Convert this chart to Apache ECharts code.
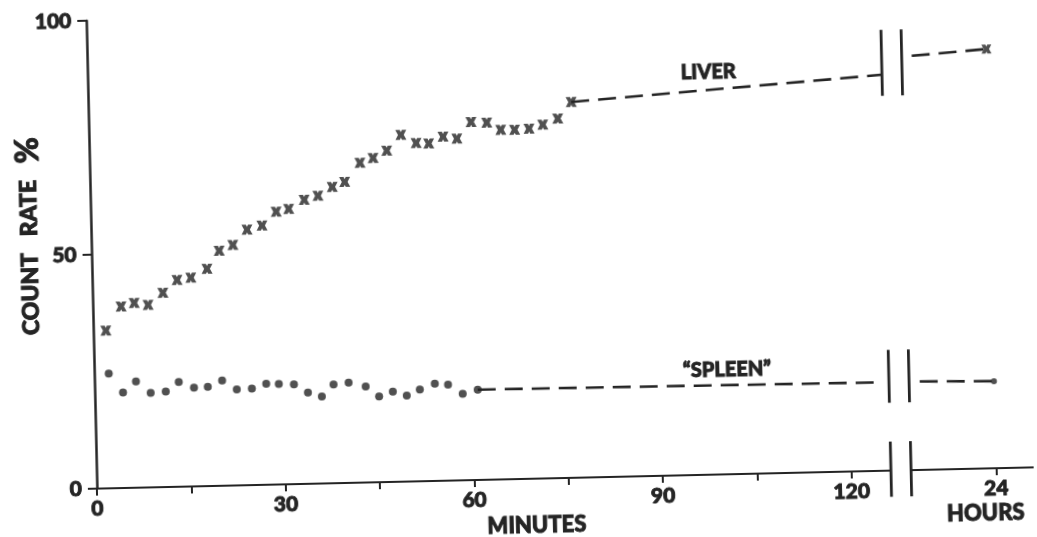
<!DOCTYPE html>
<html>
<head>
<meta charset="utf-8">
<title>Count rate — liver and spleen</title>
<script src="https://cdn.jsdelivr.net/npm/echarts@6/dist/echarts.min.js"></script>
<style>
  html, body { margin: 0; padding: 0; background: #fff; overflow: hidden; }
  /* the printed figure sits slightly askew on the page */
  #chart { width: 1037px; height: 537px; transform: rotate(-1.3deg); }
</style>
</head>
<body>
<div id="chart"></div>
<script>
// ---- data -------------------------------------------------------------
// minutes after injection and count rate (% of final) for the liver
const liverMinutes = [2.0, 4.5, 6.6, 8.8, 11.2, 13.5, 15.7, 18.3, 20.3, 22.5, 24.8, 27.2,
  29.5, 31.5, 34.0, 36.2, 38.5, 40.5, 43.0, 45.1, 47.3, 49.6, 52.0, 54.0, 56.3, 58.5,
  60.8, 63.3, 65.5, 67.7, 70.0, 72.2, 74.6, 76.8];
const liverRate = [33.7, 38.8, 39.5, 39.0, 41.5, 44.2, 44.6, 46.4, 50.2, 51.4, 54.6, 55.4,
  58.3, 58.8, 60.7, 61.5, 63.3, 64.3, 68.3, 69.3, 70.8, 74.1, 72.3, 72.1, 73.5, 73.0,
  76.5, 76.3, 74.7, 74.6, 74.8, 75.6, 76.8, 80.3];

// the same for the "spleen" region
const spleenMinutes = [2.3, 4.5, 6.6, 8.9, 11.3, 13.4, 15.8, 18.0, 20.3, 22.6, 25.0, 27.3,
  29.3, 31.7, 33.9, 36.1, 38.0, 40.4, 43.1, 45.2, 47.4, 49.6, 51.7, 54.1, 56.2, 58.5, 60.9];
const spleenRate = [24.5, 20.4, 22.7, 20.2, 20.4, 22.4, 21.1, 21.2, 22.5, 20.5, 20.6, 21.6,
  21.5, 21.3, 19.5, 18.6, 21.1, 21.4, 20.5, 18.3, 19.3, 18.4, 19.6, 20.8, 20.5, 18.5, 19.3];

// 24-hour readings, plotted after the axis break
const hoursPosition = 143;          // place of the "24 HOURS" tick on the minute scale
const liver24h = 89.6;
const spleen24h = 18.6;

// dashed trend lines, before and after the break
const liverTrend = [[76.8, 80.3], [126.3, 84.6]];
const liverLate = [[131.1, 88.5], [hoursPosition, liver24h]];
const spleenTrend = [[60.9, 19.3], [124.5, 18.9]];
const spleenLate = [[131.2, 18.9], [hoursPosition, spleen24h]];

// axis break
const breakMinutes = [126.3, 129.5];
const breakSpans = [[-5.6, 6.2], [14.5, 25.8], [80.1, 94.2]];
const xAxisMax = 149;
const xAxisSegments = [[0, breakMinutes[0]], [breakMinutes[1], xAxisMax]];

// ticks and labels
const xTicks = [0, 15, 30, 45, 60, 75, 90, 105, 120, hoursPosition];
const xLabels = [0, 30, 60, 90, 120, hoursPosition];
const yTicks = [0, 50, 100];

// ---- drawing ------------------------------------------------------------
const INK = '#242424';
const FONT = 'Lato, "Noto Sans", sans-serif';
const WEIGHT = 900;
// a faint outline in the text colour thickens the lettering
const heavy = { textBorderColor: INK, textBorderWidth: 0.9 };
const heavyFill = { stroke: INK, lineWidth: 0.9 };
const crossPath = 'path://M0,0 L4,0 L5,2.2 L6,0 L10,0 L7.6,5 L10,10 L6,10 L5,7.8 L4,10 L0,10 L2.4,5 Z';

const zip = (xs, ys) => xs.map((x, i) => [x, ys[i]]);

const dashed = { color: INK, width: 2.6, type: [18, 9] };

function breakLines() {
  const items = [];
  breakSpans.forEach(span => breakMinutes.forEach(m => items.push([m, span[0], m, span[1]])));
  return items;
}

function segmentItem(params, api) {
  const p1 = api.coord([api.value(0), api.value(1)]);
  const p2 = api.coord([api.value(2), api.value(3)]);
  return {
    type: 'line',
    shape: { x1: p1[0], y1: p1[1], x2: p2[0], y2: p2[1] },
    style: { stroke: INK, lineWidth: api.value(4) || 2.6 }
  };
}

const chart = echarts.init(document.getElementById('chart'), null, { renderer: 'canvas' });

chart.setOption({
  animation: false,
  backgroundColor: '#fff',
  textStyle: { fontFamily: FONT, color: INK },
  grid: {
    left: 92, top: 11, right: 8, bottom: 58,
    containLabel: false, outerBoundsMode: 'none'
  },
  xAxis: {
    type: 'value',
    min: 0, max: xAxisMax, interval: 15,
    splitLine: { show: false },
    axisLine: { show: false },
    axisTick: {
      show: true, inside: false, length: 7, customValues: xTicks,
      lineStyle: { color: INK, width: 2 }
    },
    axisLabel: Object.assign({
      customValues: xLabels,
      margin: 10,
      fontFamily: FONT, fontWeight: WEIGHT, fontSize: 21, color: INK,
      formatter: v => (v === hoursPosition ? '24' : String(v))
    }, heavy)
  },
  yAxis: {
    type: 'value',
    min: 0, max: 100, interval: 50,
    splitLine: { show: false },
    axisLine: { show: true, lineStyle: { color: INK, width: 2.5 } },
    axisTick: { show: true, inside: false, length: 9, customValues: yTicks,
      lineStyle: { color: INK, width: 2 } },
    axisLabel: Object.assign({ margin: 15, fontFamily: FONT, fontWeight: WEIGHT, fontSize: 21, color: INK }, heavy)
  },
  graphic: [
    {
      type: 'text', x: 31, y: 225, rotation: Math.PI / 2,
      style: Object.assign({
        text: 'COUNT   RATE   {p|%}',
        rich: { p: { fontSize: 32, fontWeight: WEIGHT, fontFamily: FONT, fill: INK, stroke: INK, lineWidth: 0.9 } },
        fontFamily: FONT, fontWeight: WEIGHT, fontSize: 23, fill: INK,
        align: 'center', verticalAlign: 'middle'
      }, heavyFill)
    },
    {
      type: 'text', x: 531, y: 526,
      style: Object.assign({ text: 'MINUTES', fontFamily: FONT, fontWeight: WEIGHT, fontSize: 22, fill: INK,
        align: 'center', verticalAlign: 'middle' }, heavyFill)
    },
    {
      type: 'text', x: 980, y: 524,
      style: Object.assign({ text: 'HOURS', fontFamily: FONT, fontWeight: WEIGHT, fontSize: 22, fill: INK,
        align: 'center', verticalAlign: 'middle' }, heavyFill)
    }
  ],
  series: [
    {
      name: 'x axis',
      type: 'custom',
      clip: false,
      silent: true,
      renderItem: segmentItem,
      data: xAxisSegments.map(s => [s[0], 0, s[1], 0, 2.2])
    },
    {
      name: 'break',
      type: 'custom',
      clip: false,
      silent: true,
      renderItem: segmentItem,
      data: breakLines().map(d => d.concat([2.8]))
    },
    {
      name: 'Liver trend',
      type: 'line',
      data: liverTrend,
      symbol: 'none',
      lineStyle: dashed,
      markPoint: {
        symbol: 'circle', symbolSize: 0,
        label: Object.assign({
          show: true, position: 'inside', formatter: 'LIVER',
          fontFamily: FONT, fontWeight: WEIGHT, fontSize: 20, color: INK
        }, heavy),
        data: [{ coord: [98.7, 86.1] }]
      }
    },
    { name: 'Liver late', type: 'line', data: liverLate, symbol: 'none', lineStyle: dashed },
    {
      name: 'Spleen trend',
      type: 'line',
      data: spleenTrend,
      symbol: 'none',
      lineStyle: dashed,
      markPoint: {
        symbol: 'circle', symbolSize: 0,
        label: Object.assign({
          show: true, position: 'inside', formatter: '\u201CSPLEEN\u201D',
          fontFamily: FONT, fontWeight: WEIGHT, fontSize: 20, color: INK
        }, heavy),
        data: [{ coord: [100.6, 22.3] }]
      }
    },
    { name: 'Spleen late', type: 'line', data: spleenLate, symbol: 'none', lineStyle: dashed },
    {
      name: 'Liver',
      type: 'scatter',
      data: zip(liverMinutes, liverRate),
      symbol: crossPath,
      symbolSize: [11, 10],
      itemStyle: { color: INK }
    },
    {
      name: 'Spleen',
      type: 'scatter',
      data: zip(spleenMinutes, spleenRate),
      symbol: 'circle',
      symbolSize: 8,
      itemStyle: { color: INK }
    },
    {
      name: 'Liver 24 h',
      type: 'scatter',
      data: [[hoursPosition, liver24h]],
      symbol: crossPath,
      symbolSize: [10, 9],
      itemStyle: { color: INK }
    },
    {
      name: 'Spleen 24 h',
      type: 'scatter',
      data: [[hoursPosition, spleen24h]],
      symbol: 'circle',
      symbolSize: 6,
      itemStyle: { color: INK }
    }
  ]
});
</script>
</body>
</html>
